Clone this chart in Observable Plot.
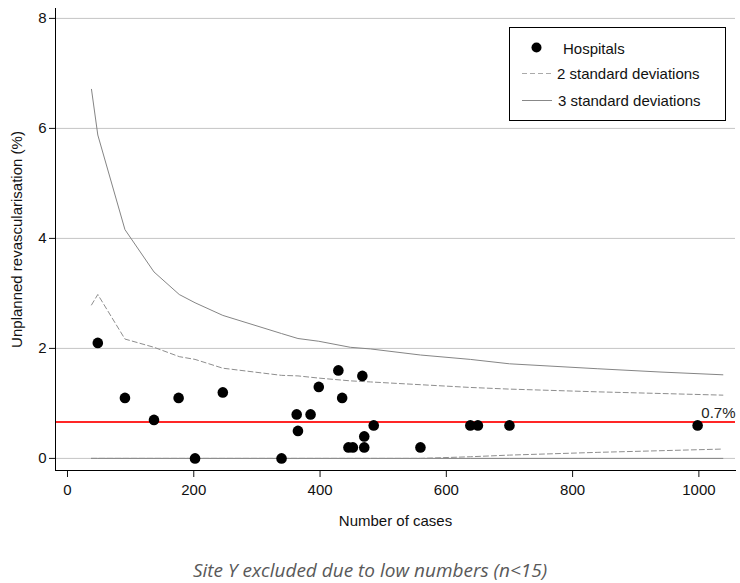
<!DOCTYPE html>
<html><head><meta charset="utf-8">
<script src="https://cdn.jsdelivr.net/npm/d3@7"></script>
<script src="https://cdn.jsdelivr.net/npm/@observablehq/plot@0.6"></script>
<style>
body{margin:0;background:#fff;}
#wrap{position:relative;width:740px;height:583px;font-family:"Liberation Sans",Arial,sans-serif;background:#fff;}
#legend{position:absolute;left:509px;top:27px;width:215px;height:92px;border:1px solid #000;background:#fff;font-size:15px;color:#111;}
#legend span{position:absolute;white-space:nowrap;line-height:18px;}
#legend svg{position:absolute;left:0;top:0;}
#caption{position:absolute;left:0;top:557px;width:740px;text-align:center;font-family:"Open Sans",sans-serif;font-style:italic;font-size:19px;line-height:26px;color:#595959;}
</style></head>
<body>
<div id="wrap">
  <div id="chart"></div>
  <div id="legend"></div>
  <div id="caption"></div>
</div>
<script>
// Hospitals: number of cases and unplanned revascularisation rate (%)
const hospitalN    = [48, 91, 137, 176, 202, 246, 339, 363, 365, 385, 398, 429, 435, 445, 452, 467, 470, 470, 485, 559, 638, 650, 700, 998];
const hospitalRate = [2.1, 1.1, 0.7, 1.1, 0.0, 1.2, 0.0, 0.8, 0.5, 0.8, 1.3, 1.6, 1.1, 0.2, 0.2, 1.5, 0.4, 0.2, 0.6, 0.2, 0.6, 0.6, 0.6, 0.6];

// Funnel limits
const limitN  = [38, 48, 91, 137, 177, 202, 246, 339, 365, 398, 448, 480, 559, 638, 700, 840, 940, 1038];
const upper3  = [6.71, 5.88, 4.16, 3.39, 2.98, 2.83, 2.60, 2.27, 2.18, 2.13, 2.02, 1.99, 1.88, 1.80, 1.72, 1.63, 1.57, 1.52];
const upper2  = [2.79, 2.98, 2.17, 2.02, 1.85, 1.80, 1.64, 1.51, 1.50, 1.46, 1.41, 1.39, 1.34, 1.29, 1.26, 1.21, 1.18, 1.15];
const lower2  = [0, 0, 0, 0, 0, 0, 0, 0, 0, 0, 0, 0, 0, 0.03, 0.06, 0.11, 0.14, 0.17];
const lower3  = [0, 0, 0, 0, 0, 0, 0, 0, 0, 0, 0, 0, 0, 0, 0, 0, 0, 0];

const benchmark = 0.66;
const benchmarkLabel = ["0.7%"];

const xTicks = [0, 200, 400, 600, 800, 1000];
const yTicks = [0, 2, 4, 6, 8];

const legendLabels = ["Hospitals", "2 standard deviations", "3 standard deviations"];
const captionText = "Site Y excluded due to low numbers (n<15)";

const hospitals = hospitalN.map((n, i) => ({n, rate: hospitalRate[i]}));
const limits = limitN.map((n, i) => ({n, u3: upper3[i], u2: upper2[i], l2: lower2[i], l3: lower3[i]}));

const solid = "#858585", dashed = "#8e8e8e";
const FONT = "'Liberation Sans', Arial, sans-serif";

const chart = Plot.plot({
  width: 740, height: 540,
  marginLeft: 55, marginRight: 5, marginTop: 8, marginBottom: 70,
  style: {fontFamily: FONT, fontSize: "15px", color: "#111", background: "#fff"},
  x: {domain: [-19, 1058]},
  y: {domain: [-0.22, 8.18]},
  marks: [
    Plot.gridY(yTicks, {stroke: "#c4c4c4", strokeOpacity: 1}),
    Plot.line(limits, {x: "n", y: "l3", stroke: solid, strokeWidth: 1}),
    Plot.line(limits, {x: "n", y: "u3", stroke: solid, strokeWidth: 1}),
    Plot.line(limits, {x: "n", y: "l2", stroke: dashed, strokeWidth: 1, strokeDasharray: "5,3"}),
    Plot.line(limits, {x: "n", y: "u2", stroke: dashed, strokeWidth: 1, strokeDasharray: "5,3"}),
    Plot.ruleY([benchmark], {stroke: "#ff2626", strokeWidth: 2}),
    Plot.dot(hospitals, {x: "n", y: "rate", r: 5.3, fill: "#000", stroke: null}),
    Plot.text(benchmarkLabel, {frameAnchor: "right", y: () => benchmark, text: d => d, dy: -9, textAnchor: "end", fill: "#222", fontSize: 15, fontFamily: FONT}),
    Plot.axisY(yTicks, {tickSize: 6, tickPadding: 3, tickFormat: d3.format("d"), fontSize: 15, fontFamily: FONT, fill: "#111",
      label: "Unplanned revascularisation (%)", labelAnchor: "center", labelArrow: "none", labelOffset: 44}),
    Plot.axisX(xTicks, {tickSize: 7, tickPadding: 7, tickFormat: d3.format("d"), fontSize: 15, fontFamily: FONT, fill: "#111",
      label: "Number of cases", labelAnchor: "center", labelArrow: "none", labelOffset: 55}),
    Plot.frame({anchor: "left", stroke: "#000"}),
    Plot.frame({anchor: "bottom", stroke: "#000"})
  ]
});
document.getElementById("chart").appendChild(chart);

// Legend
const lg = document.getElementById("legend");
const ns = "http://www.w3.org/2000/svg";
const svg = document.createElementNS(ns, "svg");
svg.setAttribute("width", 215); svg.setAttribute("height", 92);
const dot = document.createElementNS(ns, "circle");
dot.setAttribute("cx", 26.5); dot.setAttribute("cy", 19.5); dot.setAttribute("r", 5); dot.setAttribute("fill", "#000");
svg.appendChild(dot);
const l1 = document.createElementNS(ns, "line");
l1.setAttribute("x1", 12); l1.setAttribute("x2", 42); l1.setAttribute("y1", 45.5); l1.setAttribute("y2", 45.5);
l1.setAttribute("stroke", "#aaa"); l1.setAttribute("stroke-dasharray", "5,3");
svg.appendChild(l1);
const l2 = document.createElementNS(ns, "line");
l2.setAttribute("x1", 12); l2.setAttribute("x2", 42); l2.setAttribute("y1", 72.5); l2.setAttribute("y2", 72.5);
l2.setAttribute("stroke", "#888");
svg.appendChild(l2);
lg.appendChild(svg);
const pos = [[53, 12], [47, 37], [48, 64]];
legendLabels.forEach((t, i) => {
  const s = document.createElement("span");
  s.textContent = t;
  s.style.left = pos[i][0] + "px";
  s.style.top = pos[i][1] + "px";
  lg.appendChild(s);
});
document.getElementById("caption").textContent = captionText;
</script>
</body></html>
